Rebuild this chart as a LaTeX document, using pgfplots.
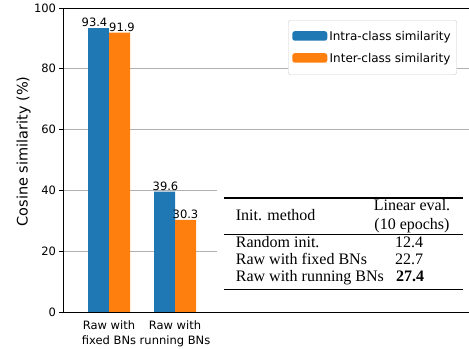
\documentclass[border=0pt]{standalone}
\usepackage{fontspec}
\setmainfont{DejaVu Sans}
\newfontfamily\tablefont{Liberation Serif}
\usepackage{pgfplots}
\pgfplotsset{compat=1.18}
\definecolor{mblue}{HTML}{1F77B4}
\definecolor{morange}{HTML}{FF7F0E}
\definecolor{mgrid}{HTML}{B0B0B0}
\definecolor{mlegend}{HTML}{CCCCCC}
\pgfplotstableread{
x y s
0 93.4 -4
1 39.6 1
}\intra
\pgfplotstableread{
x y s
0 91.9 2.5
1 30.3 0
}\inter
\begin{document}
\begin{tikzpicture}
\useasboundingbox (0,0) rectangle (469bp,349bp);
\begin{axis}[
  at={(63bp,37bp)}, anchor=south west,
  scale only axis, width=410bp, height=304bp,
  xmin=-0.697, xmax=5.515, ymin=0, ymax=100,
  ybar=0pt, bar width=21bp,
  xtick={0,1},
  xticklabels={{Raw with\\fixed BNs},{Raw with\\running BNs}},
  ytick={0,20,40,60,80,100},
  ymajorgrids, grid style={mgrid, line width=0.8bp},
  tick align=outside, ytick pos=left, xtick pos=bottom,
  xtick style={draw=none},
  major tick length=3.5bp,
  tick style={black, line width=0.8bp},
  axis line style={line width=0.8bp},
  /pgf/number format/assume math mode=true,
  tick label style={font=\fontsize{11.5bp}{14bp}\selectfont},
  xticklabel style={align=center, font=\fontsize{11.5bp}{15bp}\selectfont, yshift=-1.5bp},
  every axis y label/.style={at={(axis description cs:-0.0963,0.528)}, rotate=90, anchor=center},
  ylabel={\fontsize{14.5bp}{17bp}\selectfont Cosine similarity (\%)},
  visualization depends on={\thisrow{s} \as \lshift},
  nodes near coords,
  every node near coord/.append style={font=\fontsize{11.5bp}{14bp}\selectfont, inner sep=1bp, black,
    xshift=\lshift*1bp,
    /pgf/number format/fixed, /pgf/number format/precision=1, /pgf/number format/fixed zerofill},
  legend style={at={(axis description cs:0.549,0.9605)}, anchor=north west, draw=mlegend,
    rounded corners=2.5bp, fill=white, font=\fontsize{12bp}{14bp}\selectfont,
    inner xsep=4bp, inner ysep=7.5bp, row sep=4.5bp, column sep=0pt,
    nodes={inner sep=2bp, anchor=base, text height=11bp, text depth=2.5bp}},
  legend cell align=left,
  legend image code/.code={\fill[#1] (0bp,0bp) rectangle (35bp,9.5bp);},
]
\addplot[fill=mblue, draw=none] table[x=x, y=y] {\intra};
\addplot[fill=morange, draw=none] table[x=x, y=y] {\inter};
\legend{Intra-class similarity, Inter-class similarity}
\end{axis}
\begin{scope}[x=1bp, y=-1bp, yshift=349bp, every node/.style={inner sep=0pt, font=\tablefont\fontsize{16bp}{17bp}\selectfont}]
\fill[white] (217,184) rectangle (475,306);
\draw[line width=1.3bp] (224,198) -- (463,198);
\draw[line width=0.7bp] (224,234.3) -- (463,234.3);
\draw[line width=1.3bp] (224,289.3) -- (463,289.3);
\node[anchor=base west] at (235.7,220.5) {Init. method};
\node[anchor=base] at (412,210.7) {Linear eval.};
\node[anchor=base] at (412,229.3) {(10 epochs)};
\node[anchor=base west] at (235.7,247.7) {Random init.};
\node[anchor=base] at (409,247.7) {12.4};
\node[anchor=base west] at (235.7,264.3) {Raw with fixed BNs};
\node[anchor=base] at (409,264.3) {22.7};
\node[anchor=base west] at (235.7,281.7) {Raw with running BNs};
\node[anchor=base] at (410,281.7) {\bfseries 27.4};
\end{scope}
\end{tikzpicture}
\end{document}
